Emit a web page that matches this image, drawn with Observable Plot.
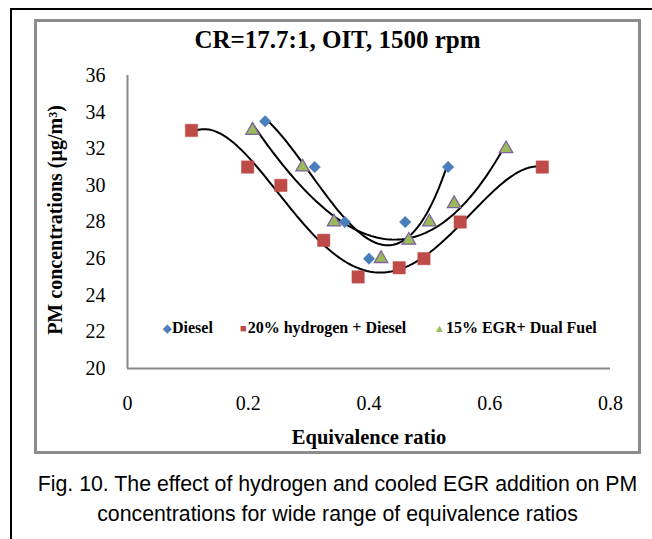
<!DOCTYPE html>
<html><head><meta charset="utf-8">
<script src="https://cdn.jsdelivr.net/npm/d3@7"></script>
<script src="https://cdn.jsdelivr.net/npm/@observablehq/plot@0.6"></script>
<style>
body{margin:0;width:652px;height:539px;overflow:hidden;position:relative;background:#fff;}
#outer{position:absolute;left:10px;top:8px;width:700px;height:600px;border:2px solid #000;}
#inner{position:absolute;left:34px;top:19px;width:601px;height:429px;border:3px solid #8c8c8c;}
#title{position:absolute;left:35px;width:605px;top:25px;text-align:center;font:bold 25px "Liberation Serif";line-height:30px;}
#chart{position:absolute;left:0;top:60px;}
#chart svg text{font-family:"Liberation Serif",serif;}
.leg{position:absolute;top:318px;font:bold 16px "Liberation Serif";white-space:nowrap;line-height:20px;}
.sym{font-size:11px;margin-right:1px;vertical-align:1px;}
#caption{position:absolute;left:25px;width:625px;top:469px;text-align:center;font:21.3px "Liberation Sans";line-height:30px;}
</style></head>
<body>
<div id="outer"></div>
<div id="inner"></div>
<div id="title">CR=17.7:1, OIT, 1500 rpm</div>
<div id="chart"></div>
<div class="leg" style="left:163px"><span class="sym" style="color:#4a7ebb">◆</span>Diesel</div>
<div class="leg" style="left:240px"><span class="sym" style="color:#be4b48">■</span>20% hydrogen + Diesel</div>
<div class="leg" style="left:434px"><span class="sym" style="color:#9bbb59">▲</span>15% EGR+ Dual Fuel</div>
<div id="caption">Fig. 10. The effect of hydrogen and cooled EGR addition on PM<br>concentrations for wide range of equivalence ratios</div>
<script>
// Data
const dieselX = [0.228, 0.310, 0.360, 0.400, 0.460, 0.531];
const dieselY = [33.5, 31.0, 28.0, 26.0, 28.0, 31.0];
const hydrogenX = [0.106, 0.199, 0.254, 0.325, 0.382, 0.450, 0.491, 0.551, 0.687];
const hydrogenY = [33.0, 31.0, 30.0, 27.0, 25.0, 25.5, 26.0, 28.0, 31.0];
const egrX = [0.207, 0.290, 0.342, 0.420, 0.466, 0.500, 0.541, 0.627];
const egrY = [33.0, 31.0, 28.0, 26.0, 27.0, 28.0, 29.0, 32.0];
const xTicks = [0, 0.2, 0.4, 0.6, 0.8];
const yTicks = [20, 22, 24, 26, 28, 30, 32, 34, 36];

function polyfit(xs, ys, deg) {
  const n = deg + 1;
  const A = Array.from({length: n}, () => Array(n + 1).fill(0));
  for (let i = 0; i < xs.length; i++) {
    for (let r = 0; r < n; r++) {
      for (let c = 0; c < n; c++) A[r][c] += Math.pow(xs[i], r + c);
      A[r][n] += ys[i] * Math.pow(xs[i], r);
    }
  }
  for (let i = 0; i < n; i++) {
    let p = i;
    for (let k = i + 1; k < n; k++) if (Math.abs(A[k][i]) > Math.abs(A[p][i])) p = k;
    [A[i], A[p]] = [A[p], A[i]];
    for (let k = i + 1; k < n; k++) {
      const f = A[k][i] / A[i][i];
      for (let j = i; j <= n; j++) A[k][j] -= f * A[i][j];
    }
  }
  const c = Array(n).fill(0);
  for (let i = n - 1; i >= 0; i--) {
    let s = A[i][n];
    for (let j = i + 1; j < n; j++) s -= A[i][j] * c[j];
    c[i] = s / A[i][i];
  }
  return c;
}
function trend(xs, ys, deg, name) {
  const c = polyfit(xs, ys, deg);
  const lo = d3.min(xs), hi = d3.max(xs);
  return d3.range(0, 101).map(i => {
    const x = lo + (hi - lo) * i / 100;
    return {series: name, x, y: c.reduce((s, ci, k) => s + ci * Math.pow(x, k), 0)};
  });
}
const pts = (xs, ys, name) => xs.map((x, i) => ({series: name, x, y: ys[i]}));
const diesel = pts(dieselX, dieselY, "Diesel");
const hydrogen = pts(hydrogenX, hydrogenY, "20% hydrogen + Diesel");
const egr = pts(egrX, egrY, "15% EGR+ Dual Fuel");
const trends = [
  ...trend(dieselX, dieselY, 3, "Diesel"),
  ...trend(hydrogenX, hydrogenY, 4, "20% hydrogen + Diesel"),
  ...trend(egrX, egrY, 3, "15% EGR+ Dual Fuel")
];

const serif = "Liberation Serif, serif";
const chart = Plot.plot({
  width: 652, height: 392,
  marginLeft: 127, marginRight: 42, marginTop: 15, marginBottom: 84,
  x: {domain: [0, 0.8]},
  y: {domain: [20, 36]},
  style: {fontFamily: serif, background: "transparent", overflow: "visible", color: "#000"},
  marks: [
    Plot.axisX({ticks: xTicks, tickSize: 0, tickPadding: 27, fontSize: 20, fontFamily: serif, label: null, tickFormat: d => String(d)}),
    Plot.axisY({ticks: yTicks, tickSize: 0, tickPadding: 22, fontSize: 20, fontFamily: serif, label: null}),
    Plot.ruleY([20], {stroke: "#868686", strokeWidth: 2}),
    Plot.ruleX([0], {stroke: "#868686", strokeWidth: 2}),
    Plot.line(trends, {x: "x", y: "y", z: "series", stroke: "#000", strokeWidth: 2}),
    Plot.dot(diesel, {x: "x", y: "y", symbol: "diamond2", r: 5.2, fill: "#4a7ebb", stroke: "#4a7ebb", strokeWidth: 0.5}),
    Plot.dot(hydrogen, {x: "x", y: "y", symbol: "square", r: 7, fill: "#be4b48", stroke: "#c0504d", strokeWidth: 0.5}),
    Plot.dot(egr, {x: "x", y: "y", symbol: "triangle", r: 5, fill: "#9bbb59", stroke: "#7f62a0", strokeWidth: 1.3}),
    Plot.text(["Equivalence ratio"], {frameAnchor: "bottom", dy: 69, fontWeight: "bold", fontSize: 20.5, fontFamily: serif, lineAnchor: "middle"}),
    Plot.text(["PM concentrations (µg/m³)"], {frameAnchor: "left", dx: -72, dy: -2, rotate: -90, textAnchor: "middle", fontWeight: "bold", fontSize: 20, fontFamily: serif, lineAnchor: "middle"})
  ]
});
document.getElementById("chart").appendChild(chart);
</script>
</body></html>
